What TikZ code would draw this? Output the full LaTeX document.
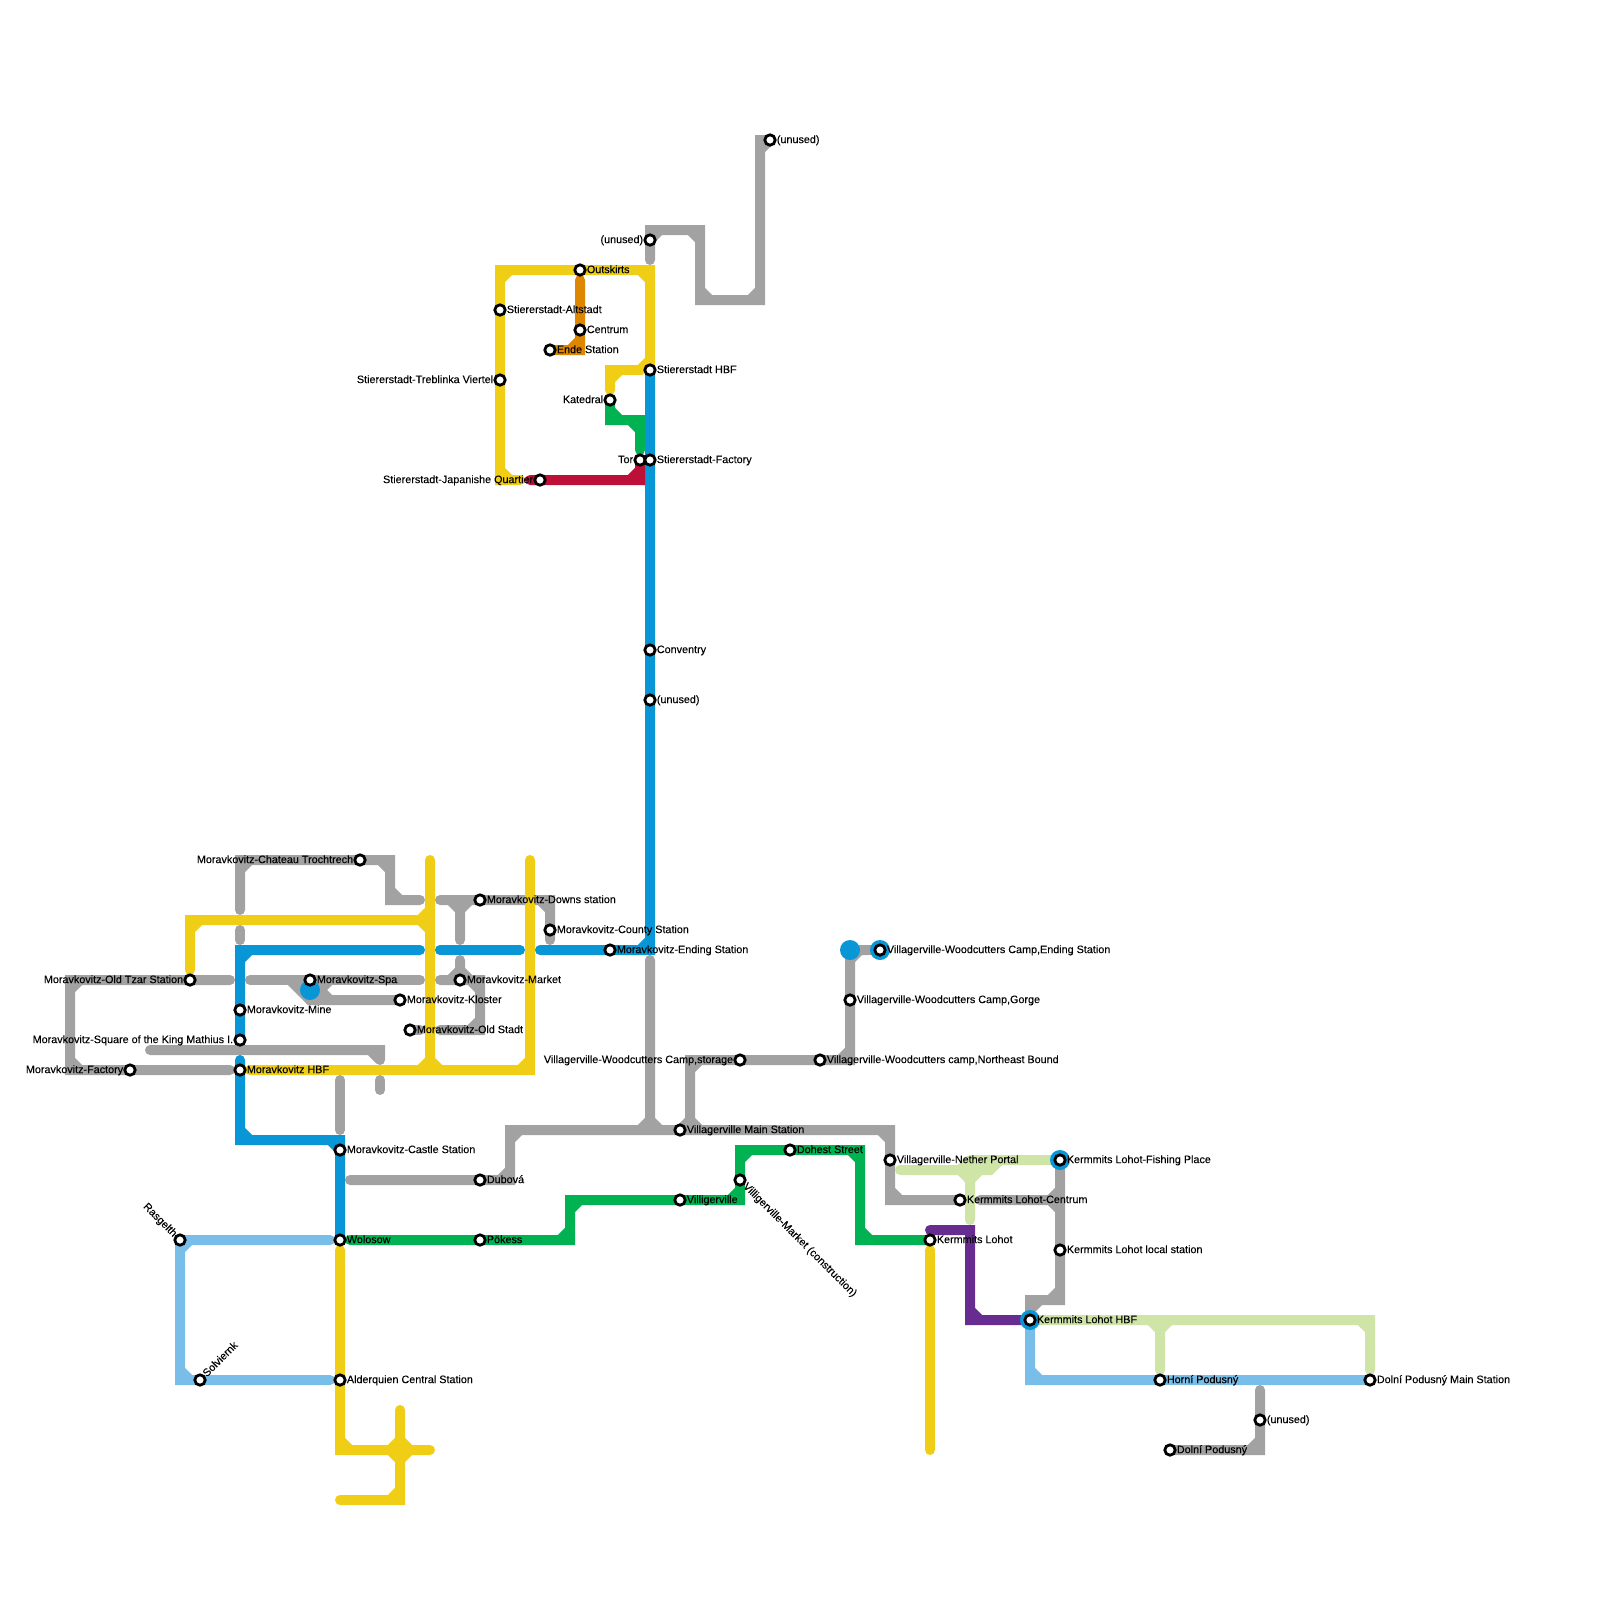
\documentclass[tikz,border=0pt]{standalone}
\usepackage{fontspec}
\setmainfont[FakeBold=0.12]{Liberation Sans}
\usepackage{tikz}
\usetikzlibrary{backgrounds}
\usepackage{xcolor}
\definecolor{lineyellow}{HTML}{F0CE15}
\definecolor{lineblue}{HTML}{0896D7}
\definecolor{linegrey}{HTML}{A2A2A2}
\definecolor{linegreen}{HTML}{00B251}
\definecolor{linesky}{HTML}{79BDE9}
\definecolor{linepale}{HTML}{CFE4A7}
\definecolor{linered}{HTML}{BD1038}
\definecolor{lineorange}{HTML}{DF8600}
\definecolor{linepurple}{HTML}{662C90}

\begin{document}
\begin{tikzpicture}[x=0.25cm, y=-0.25cm,
  stn/.style={circle, draw=black, fill=white, line width=0.07cm, minimum size=0.26cm, inner sep=0pt, label distance=0.08cm},
  txt/.style={font=\fontsize{7.68pt}{9pt}\selectfont, inner sep=0pt, text height=0.205cm, text depth=0.05cm},
  hub/.style={circle, fill=lineblue, minimum size=0.5cm, inner sep=0pt},
  route/.style={line width=0.25cm, line cap=round, miter limit=10}]
  \useasboundingbox (0,0) rectangle (160,160);

  % Stiererstadt
  \node[stn, label={[txt]right:Outskirts}] (outskirts) at (58,27) {};
  \node[stn, label={[txt]right:Stiererstadt-Altstadt}] (altstadt) at (50,31) {};
  \node[stn, label={[txt]right:Centrum}] (centrum) at (58,33) {};
  \node[stn, label={[txt]right:Ende Station}] (ende) at (55,35) {};
  \node[stn, label={[txt]left:Stiererstadt-Treblinka Viertel}] (treblinka) at (50,38) {};
  \node[stn, label={[txt]right:Stiererstadt HBF}] (stiererhbf) at (65,37) {};
  \node[stn, label={[txt]left:Katedral}] (katedral) at (61,40) {};
  \node[stn, label={[txt]left:Tor}] (tor) at (64,46) {};
  \node[stn, label={[txt]right:Stiererstadt-Factory}] (stierfactory) at (65,46) {};
  \node[stn, label={[txt]left:Stiererstadt-Japanishe Quartier}] (japanishe) at (54,48) {};
  \node[stn, label={[txt]left:(unused)}] (unuseda) at (65,24) {};
  \node[stn, label={[txt]right:(unused)}] (unusedb) at (77,14) {};
  \node[stn, label={[txt]right:Conventry}] (conventry) at (65,65) {};
  \node[stn, label={[txt]right:(unused)}] (unusedc) at (65,70) {};

  % Moravkovitz
  \node[hub] (spahub) at (31,99) {};
  \node[stn, label={[txt]left:Moravkovitz-Chateau Trochtrech}] (chateau) at (36,86) {};
  \node[stn, label={[txt]left:Moravkovitz-Old Tzar Station}] (oldtzar) at (19,98) {};
  \node[stn, label={[txt]left:Moravkovitz-Factory}] (factory) at (13,107) {};
  \node[stn, label={[txt]right:Moravkovitz-Mine}] (mine) at (24,101) {};
  \node[stn, label={[txt]left:Moravkovitz-Square of the King Mathius I.}] (square) at (24,104) {};
  \node[stn, label={[txt]right:Moravkovitz HBF}] (moravhbf) at (24,107) {};
  \node[stn, label={[txt]right:Moravkovitz-Spa}] (spa) at (31,98) {};
  \node[stn, label={[txt]right:Moravkovitz-Kloster}] (kloster) at (40,100) {};
  \node[stn, label={[txt]right:Moravkovitz-Old Stadt}] (oldstadt) at (41,103) {};
  \node[stn, label={[txt]right:Moravkovitz-Market}] (market) at (46,98) {};
  \node[stn, label={[txt]right:Moravkovitz-Downs station}] (downs) at (48,90) {};
  \node[stn, label={[txt]right:Moravkovitz-County Station}] (county) at (55,93) {};
  \node[stn, label={[txt]right:Moravkovitz-Ending Station}] (ending) at (61,95) {};
  \node[stn, label={[txt]right:Moravkovitz-Castle Station}] (castle) at (34,115) {};

  % Alderquien side
  \node[stn, label={[txt]right:Wolosow}] (wolosow) at (34,124) {};
  \node[stn, label={[txt]right:Alderquien Central Station}] (alderquien) at (34,138) {};
  \node[stn, label={[txt, rotate=-45, anchor=east]135:Rasgelth}] (rasgelth) at (18,124) {};
  \node[stn, label={[txt, rotate=45, anchor=west]45:Solviernk}] (solviernk) at (20,138) {};
  \node[stn, label={[txt]right:Dubová}] (dubova) at (48,118) {};
  \node[stn, label={[txt]right:Pökess}] (pokess) at (48,124) {};

  % Villagerville
  \node[stn, label={[txt]right:Villigerville}] (villigerville) at (68,120) {};
  \node[stn, label={[txt, rotate=-45, anchor=west]-45:Villigerville-Market (construction)}] (villimarket) at (74,118) {};
  \node[stn, label={[txt]right:Dohest Street}] (dohest) at (79,115) {};
  \node[stn, label={[txt]right:Villagerville Main Station}] (villamain) at (68,113) {};
  \node[stn, label={[txt]left:Villagerville-Woodcutters Camp,storage}] (storage) at (74,106) {};
  \node[stn, label={[txt]right:Villagerville-Woodcutters camp,Northeast Bound}] (northeast) at (82,106) {};
  \node[stn, label={[txt]right:Villagerville-Woodcutters Camp,Gorge}] (gorge) at (85,100) {};
  \node[hub] (campdisc) at (85,95) {};
  \node[hub] (camphub) at (88,95) {};
  \node[stn, label={[txt]right:Villagerville-Woodcutters Camp,Ending Station}] (campend) at (88,95) {};
  \node[stn, label={[txt]right:Villagerville-Nether Portal}] (nether) at (89,116) {};

  % Kermmits and Podusny
  \node[stn, label={[txt]right:Kermmits Lohot-Centrum}] (kcentrum) at (96,120) {};
  \node[hub] (fishhub) at (106,116) {};
  \node[stn, label={[txt]right:Kermmits Lohot-Fishing Place}] (fishing) at (106,116) {};
  \node[stn, label={[txt]right:Kermmits Lohot local station}] (klocal) at (106,125) {};
  \node[stn, label={[txt]right:Kermmits Lohot}] (lohot) at (93,124) {};
  \node[hub] (khub) at (103,132) {};
  \node[stn, label={[txt]right:Kermmits Lohot HBF}] (khbf) at (103,132) {};
  \node[stn, label={[txt]right:Horní Podusný}] (horni) at (116,138) {};
  \node[stn, label={[txt]right:Dolní Podusný Main Station}] (dolnimain) at (137,138) {};
  \node[stn, label={[txt]right:(unused)}] (unusedd) at (126,142) {};
  \node[stn, label={[txt]right:Dolní Podusný}] (dolni) at (117,145) {};

  \begin{scope}[on background layer]
    % grey lines first, the others run over them
    \begin{scope}[route, draw=linegrey]
      \draw (65,26) -- (unuseda.center) -- (65,23) -- (70,23) -- (70,30) -- (76,30) -- (76,14) -- (unusedb.center)
        (65,24) -- (66,23) (69,23) -- (70,24) (70,29) -- (71,30) (75,30) -- (76,29) (76,15) -- (77,14);
      \draw (24,91) -- (24,86) -- (chateau.center) -- (39,86) -- (39,90) -- (42,90)
        (24,87) -- (25,86) (38,86) -- (39,87) (39,89) -- (40,90);
      \draw (24,93) -- (24,94);
      \draw (23,98) -- (oldtzar.center) -- (7,98) -- (7,107) -- (factory.center) -- (23,107)
        (7,99) -- (8,98) (7,106) -- (8,107);
      \draw (25,98) -- (spa.center) -- (42,98);
      \draw (29,98) -- (31,100) -- (kloster.center);
      \draw (33,98) -- (32,99) -- (33,100) (31,99) -- (32,99) (31,98) -- (31,100);
      \draw (44,90) -- (downs.center) -- (55,90) -- (county.center) -- (55,94)
        (54,90) -- (55,91) (46,90) -- (46,94) (45,90) -- (46,91) (47,90) -- (46,91);
      \draw (44,98) -- (market.center) -- (48,98) -- (48,103) -- (44,103)
        (47,98) -- (48,99) (47,103) -- (48,102) (46,96) -- (market.center) (45,98) -- (46,97) (47,98) -- (46,97);
      \draw (oldstadt.center) -- (42,103);
      \draw (15,105) -- (38,105) -- (38,106) (37,105) -- (38,106);
      \draw (38,108) -- (38,109);
      \draw (34,108) -- (34,113);
      \draw (35,118) -- (dubova.center) -- (51,118) -- (51,113) -- (villamain.center) -- (89,113) -- (89,120) -- (kcentrum.center)
        (50,118) -- (51,117) (51,114) -- (52,113) (88,113) -- (89,114) (89,119) -- (90,120);
      \draw (65,96) -- (65,113) (64,113) -- (65,112) (66,113) -- (65,112);
      \draw (69,113) -- (69,106) -- (storage.center) -- (northeast.center) -- (85,106) -- (gorge.center) -- (campdisc.center) -- (campend.center)
        (68,113) -- (69,112) (70,113) -- (69,112) (69,107) -- (70,106) (84,106) -- (85,105) (85,96) -- (86,95);
      \draw (fishing.center) -- (klocal.center) -- (106,130) -- (103,130) -- (khbf.center)
        (105,130) -- (106,129) (103,131) -- (104,130);
      \draw (98,120) -- (106,120) (105,120) -- (106,119) (105,120) -- (106,121);
      \draw (126,139) -- (unusedd.center) -- (126,145) -- (dolni.center) (125,145) -- (126,144);
    \end{scope}
    % yellow
    \begin{scope}[route, draw=lineyellow]
      \draw (43,86) -- (43,107) (53,86) -- (53,107) -- (25,107)
        (52,107) -- (53,106) (42,107) -- (43,106) (44,107) -- (43,106);
      \draw (oldtzar.center) ++(0,-1) -- (19,92) -- (43,92)
        (19,93) -- (20,92) (42,92) -- (43,91) (42,92) -- (43,93);
      \draw (52,48) -- (50,48) -- (treblinka.center) -- (altstadt.center) -- (50,27) -- (outskirts.center) -- (65,27) -- (65,36) -- (64,37) -- (61,37) -- (61,39)
        (50,47) -- (51,48) (50,28) -- (51,27) (64,27) -- (65,28) (61,38) -- (62,37);
      \draw (65,36) -- (stiererhbf.center);
      \draw (wolosow.center) ++(0,1) -- (alderquien.center) -- (34,145) -- (43,145)
        (34,144) -- (35,145) (39,145) -- (40,144) (41,145) -- (40,144) (39,145) -- (40,146) (41,145) -- (40,146);
      \draw (40,141) -- (40,150) -- (34,150) (39,150) -- (40,149);
      \draw (lohot.center) ++(0,1) -- (93,145);
    \end{scope}
    % blue
    \begin{scope}[route, draw=lineblue]
      \draw (stiererhbf.center) -- (stierfactory.center) -- (conventry.center) -- (unusedc.center) -- (65,95) -- (ending.center) -- (54,95)
        (64,95) -- (65,94);
      \draw (44,95) -- (52,95);
      \draw (42,95) -- (24,95) -- (mine.center) -- (square.center) (24,96) -- (25,95);
      \draw (24,106) -- (24,114) -- (34,114) -- (castle.center) -- (wolosow.center)
        (24,113) -- (25,114) (33,114) -- (34,115);
    \end{scope}
    % the smaller lines
    \begin{scope}[route, draw=lineorange]
      \draw (58,28) -- (centrum.center) -- (58,35) -- (ende.center) (57,35) -- (58,34);
    \end{scope}
    \begin{scope}[route, draw=linered]
      \draw (53,48) -- (japanishe.center) -- (64,48) -- (tor.center) (63,48) -- (64,47);
    \end{scope}
    \begin{scope}[route, draw=linegreen]
      \draw (katedral.center) -- (61,42) -- (64,42) -- (64,45) (61,41) -- (62,42) (63,42) -- (64,43);
      \draw (35,124) -- (pokess.center) -- (57,124) -- (57,120) -- (villigerville.center) -- (74,120) -- (villimarket.center) -- (74,115) -- (dohest.center) -- (86,115) -- (86,124) -- (lohot.center)
        (56,124) -- (57,123) (57,121) -- (58,120) (73,120) -- (74,119) (74,116) -- (75,115) (85,115) -- (86,116) (86,123) -- (87,124);
    \end{scope}
    \begin{scope}[route, draw=linesky]
      \draw (33,124) -- (rasgelth.center) -- (18,138) -- (solviernk.center) -- (33,138) (18,125) -- (19,124) (18,137) -- (19,138);
      \draw (khbf.center) -- (103,138) -- (horni.center) -- (dolnimain.center) (103,137) -- (104,138);
    \end{scope}
    \begin{scope}[route, draw=linepale]
      \draw (90,117) -- (99,117) -- (100,116) (97,116) -- (fishing.center) (97,116) -- (97,122)
        (96,117) -- (97,116) (96,117) -- (97,118) (98,117) -- (97,118);
      \draw (khbf.center) -- (137,132) -- (137,137) (136,132) -- (137,133);
      \draw (116,132) -- (116,137) (115,132) -- (116,133) (117,132) -- (116,133);
    \end{scope}
    \begin{scope}[route, draw=linepurple]
      \draw (93,123) -- (97,123) -- (97,132) -- (khbf.center) (97,131) -- (98,132);
    \end{scope}
  \end{scope}
\end{tikzpicture}
\end{document}
